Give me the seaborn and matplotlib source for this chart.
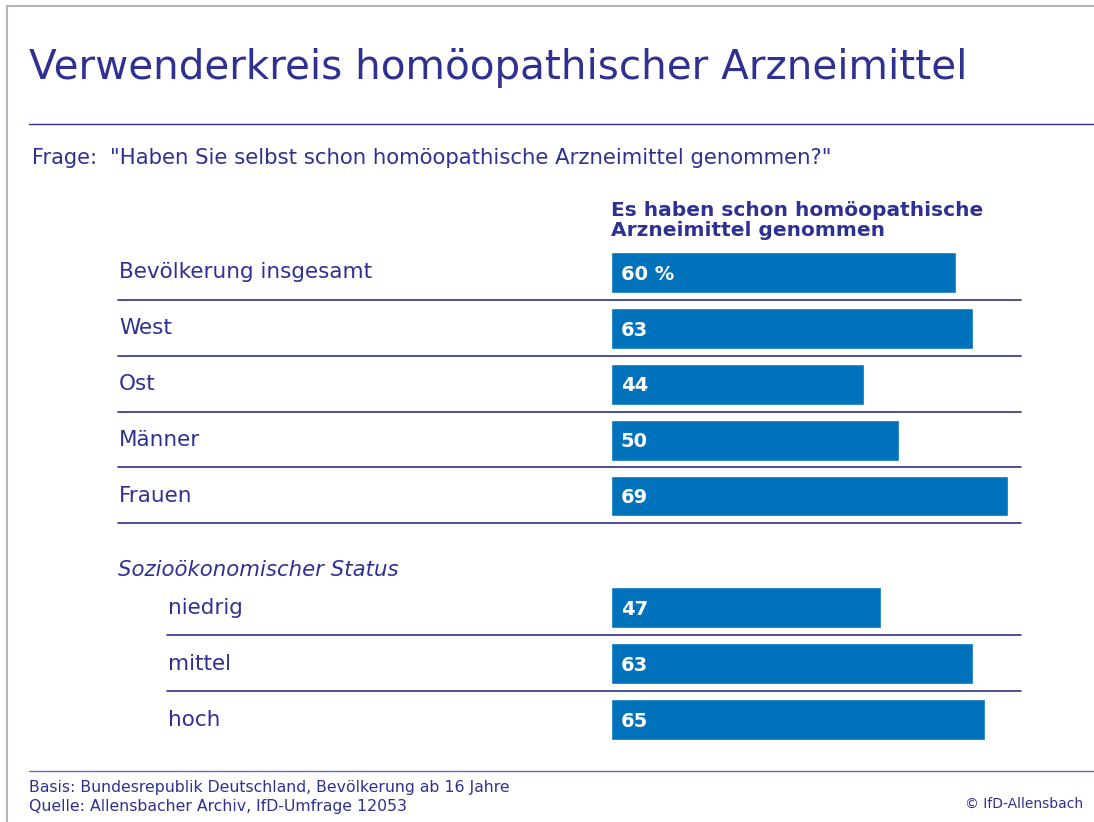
"""Verwenderkreis homöopathischer Arzneimittel (IfD-Allensbach style bar chart).

Outputs: out.png
"""
import matplotlib
matplotlib.use("Agg")
import matplotlib.pyplot as plt
import matplotlib.transforms as mtransforms
import seaborn as sns

TITLE = "Verwenderkreis homöopathischer Arzneimittel"
QUESTION_LEAD = "Frage:"
QUESTION = '"Haben Sie selbst schon homöopathische Arzneimittel genommen?"'
COL_HEADER = "Es haben schon homöopathische\nArzneimittel genommen"
GROUP_HEADER = "Sozioökonomischer Status"

MAIN_LABELS = ["Bevölkerung insgesamt", "West", "Ost", "Männer", "Frauen"]
MAIN_VALUES = [60, 63, 44, 50, 69]
SES_LABELS = ["niedrig", "mittel", "hoch"]
SES_VALUES = [47, 63, 65]

FOOTER = ["Basis: Bundesrepublik Deutschland, Bevölkerung ab 16 Jahre",
          "Quelle: Allensbacher Archiv, IfD-Umfrage 12053"]
COPYRIGHT = "© IfD-Allensbach"

NAVY = "#2E3192"
BAR = "#0072BC"
GRAY = "#B4B4B4"

W, H = 1094, 822


def fx(px):
    return px / W


def fy(py):
    return 1 - py / H


def main():
    sns.set_theme(style="white")
    plt.rcParams["font.family"] = ["DejaVu Sans"]

    fig = plt.figure(figsize=(W / 100, H / 100), dpi=100)
    fig.patch.set_facecolor("white")

    # one axis unit = 5.75 px, rows are 56 px apart
    x0, x1 = 611, 1021
    ax = fig.add_axes([fx(x0), fy(747.5), fx(x1 - x0), (747.5 - 244.5) / H])

    labels = MAIN_LABELS + SES_LABELS
    values = MAIN_VALUES + SES_VALUES
    order = MAIN_LABELS + [GROUP_HEADER] + SES_LABELS
    sns.barplot(x=values, y=labels, order=order, orient="h", color=BAR,
                saturation=1, width=41 / 56, ax=ax)
    ax.set_xlim(0, (x1 - x0) / 5.75)
    ax.set_ylim(len(order) - 0.5, -0.5)
    ax.axis("off")

    blend = mtransforms.blended_transform_factory(fig.transFigure, ax.transData)

    for i, lab in enumerate(order):
        if lab == GROUP_HEADER:
            ax.text(fx(118), i + 0.32, lab, transform=blend, ha="left",
                    va="center", fontsize=15.3, style="italic", color=NAVY)
            continue
        indent = 167 if lab in SES_LABELS else 118
        ax.text(fx(indent + 1), i, lab, transform=blend, ha="left",
                va="center", fontsize=15.5, color=NAVY)
        v = values[labels.index(lab)]
        txt = f"{v} %" if i == 0 else str(v)
        ax.annotate(txt, xy=(0, i + 0.03), xytext=(7, 0),
                    textcoords="offset points", ha="left", va="center",
                    fontsize=14, fontweight="bold", color="white")
        # divider under each row except the last one
        if lab != SES_LABELS[-1]:
            ax.plot([fx(indent), fx(1021)], [i + 0.49, i + 0.49], transform=blend,
                    color=NAVY, lw=1.2, clip_on=False)

    ax.text(0, -0.5, COL_HEADER, ha="left", va="bottom", fontsize=14.5,
            fontweight="bold", color=NAVY, linespacing=1.12,
            transform=mtransforms.offset_copy(ax.transData, fig=fig, y=4, units="dots"))

    # frame, title, rules
    fig.add_artist(plt.Line2D([fx(7), fx(W)], [fy(6), fy(6)], color=GRAY, lw=1.5))
    fig.add_artist(plt.Line2D([fx(7), fx(7)], [fy(6), 0], color=GRAY, lw=1.5))
    fig.text(fx(29), fy(68), TITLE, ha="left", va="center", fontsize=29.2,
             color=NAVY)
    fig.add_artist(plt.Line2D([fx(29), 1], [fy(124), fy(124)], color=NAVY, lw=1.0))
    fig.text(fx(32), fy(158), QUESTION_LEAD, ha="left", va="center", fontsize=15,
             color=NAVY)
    fig.text(fx(110), fy(158), QUESTION, ha="left", va="center", fontsize=15.3,
             color=NAVY)

    fig.add_artist(plt.Line2D([fx(29), 1], [fy(771), fy(771)], color="#6A6DB8", lw=1.0))
    fig.text(fx(29), fy(787), FOOTER[0], ha="left", va="center", fontsize=11.3,
             color=NAVY)
    fig.text(fx(29), fy(806), FOOTER[1], ha="left", va="center", fontsize=11.3,
             color=NAVY)
    fig.text(fx(1083), fy(804), COPYRIGHT, ha="right", va="center", fontsize=10,
             color=NAVY)

    fig.savefig("out.png", dpi=100)
    plt.close(fig)


if __name__ == "__main__":
    main()
